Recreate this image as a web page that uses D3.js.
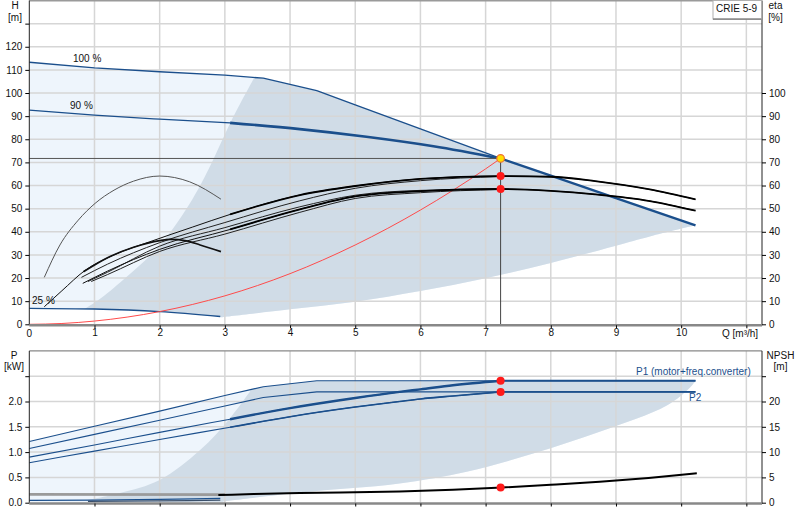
<!DOCTYPE html>
<html><head><meta charset="utf-8">
<script src="https://cdn.jsdelivr.net/npm/d3@7"></script>
<style>body{margin:0;background:#fff}svg{display:block;font-family:"Liberation Sans",Arial,sans-serif}</style>
</head><body><svg id="c" width="800" height="520"></svg>
<script>
// ---------- tick labels ----------
const Q_TICKS=[0,1,2,3,4,5,6,7,8,9,10];
const Q_GRID=[1,2,3,4,5,6,7,8,9,10,11];
const H_TICKS=[0,10,20,30,40,50,60,70,80,90,100,110,120,130];
const ETA_TICKS=[0,10,20,30,40,50,60,70,80,90,100];
const P_TICKS=[0,0.5,1,1.5,2,2.5];
const NPSH_TICKS=[0,5,10,15,20,25];

// ---------- head curves ----------
const H100_Q=[0,1,2,3,3.59,4.41,5,6,7.23];
const H100_H=[113.3,110.9,109.2,107.7,106.4,101,94.9,84.5,71.7];
const H90_Q=[0,1,2,3.08];
const H90_H=[92.6,90.4,88.7,87.1];
const HDUTY_Q=[3.08,4.15,5.17,6.2,7.23];
const HDUTY_H=[87.1,84.4,81.1,77,71.7];
const HEND_Q=[7.23,8,9,10.22];
const HEND_H=[71.7,64.3,54.6,42.8];
const H25_Q=[0,1,2,2.93];
const H25_H=[6.9,6.6,5.5,3.4];
const SYS_Q=[0,0.5,1,2,3,4,5,6,7,7.23];
const SYS_H=[0,0.35,1.4,5.5,12.3,21.9,34.3,49.4,67.2,71.7];
// operating-area boundaries
const LOW_Q=[10.22,9.52,9,8,7,6,5,4,2.94];
const LOW_H=[42.8,38,34,26.5,19.9,14.4,9.8,6.5,3.0];
const GREYL_Q=[0.85,1.06,1.45,2.0,2.5,2.75,3.1,3.45];
const GREYL_H=[6.7,10.5,19.5,34,54,67,88,106.6];

// ---------- efficiency curves ----------
const E25A_Q=[0.23,0.47,0.75,1.01,1.3,1.6,2.0,2.46,2.94];
const E25A=[20.3,34.3,45,52.3,58,61.9,64.1,61.6,54.1];
const E25B_Q=[0.83,1.2,1.6,2.0,2.16,2.41,2.62,2.94];
const E25B=[22.7,28.8,33.3,36.2,36.7,36.1,34.3,31.4];
const EF1_Q=[0.23,0.5,0.85,1.3,1.85,2.5,3.08,4.15,5,6,7.23,8,8.68,9.52,10.22];
const EF1=[7.6,14.5,23.2,30,35.7,42,47.5,55.9,59.8,62.9,64.1,63.8,61.9,58.3,54.0];
const EF2_Q=[0.8,1.2,2,3,4.15,5,6,7.23];
const EF2=[20.3,26,35.3,44,53.4,58.8,62.1,63.9];
const EF3_Q=[0.9,1.2,2,3,4.15,5,6,7.23];
const EF3=[18.5,22.5,33.8,41.8,50.8,55.8,57.9,58.5];
const EF4_Q=[0.82,1.2,2,3.08,4.15,5,6,7.23,8,8.68,9.52,10.22];
const EF4=[17.7,23,32.4,41,49.7,55.3,57.6,58.5,57.7,56.2,53.3,49.1];
const EF5_Q=[0.95,1.2,2,3,4.15,5,6,7.23];
const EF5=[18.5,21.5,31.5,39,48.4,54.4,56.9,58.3];

// ---------- duty point ----------
const DUTY_Q=7.23, DUTY_H=71.7;
const DUTY_ETA=[64.1,58.5];
const DUTY_P=[2.41,2.19];
const DUTY_NPSH=3.0;

// ---------- power curves ----------
const P1MAX_Q=[0,1,2,3,3.41,3.59,4.41,10.22];
const P1MAX=[1.21,1.51,1.81,2.12,2.24,2.29,2.41,2.41];
const P2MAX_Q=[0,1,2,3,3.59,4.41,10.22];
const P2MAX=[1.07,1.35,1.63,1.91,2.08,2.19,2.19];
const PD_Q=[0,1,2,3.08,4,5,5.68,6,6.5,7.23];
const P1DUTY=[0.9,1.14,1.39,1.65,1.87,2.07,2.19,2.24,2.32,2.41];
const P2DUTY=[0.79,1.02,1.25,1.49,1.70,1.89,2.0,2.05,2.11,2.19];
const PEND_Q=[7.23,10.22];
const P1END=[2.41,2.41];
const P2END=[2.19,2.19];
const P1_25_Q=[0,1,2,2.93];
const P1_25=[0.045,0.05,0.065,0.085];
const P2_25_Q=[0.9,2,2.93];
const P2_25=[0.025,0.035,0.05];
const PLOW_Q=[10.22,10.14,9.78,8.75,7.73,6.71,5.68,4.15,2.97];
const PLOW=[2.41,2.28,1.92,1.40,0.97,0.61,0.38,0.2,0.02];
const PGREYL_Q=[0.85,1.39,2.0,2.62,3.08,3.41];
const PGREYL=[0.04,0.19,0.45,1.04,1.67,2.24];
// NPSH
const N25_Q=[0,3.0];
const N25=[1.65,1.6];
const NPSH_Q=[2.9,3.44,4.15,5,5.68,6.5,7.25,8,8.75,9.5,10.24];
const NPSH=[1.5,1.7,1.9,2.05,2.2,2.55,3.0,3.55,4.15,4.9,5.8];

// ---------- drawing ----------
const BLUE="#1b4f8c", LIGHT="#eef5fc", GREY="#d0dce7", GRID="#d6d6d6";
const svg=d3.select("#c");
const x=d3.scaleLinear().domain([0,11.24]).range([29.3,762]);
const yH=d3.scaleLinear().domain([0,140]).range([324.3,0.5]);
const yP=d3.scaleLinear().domain([0,3]).range([502.7,350.9]);
const yN=d3.scaleLinear().domain([0,30]).range([502.7,350.9]);
const zip=(a,b)=>a.map((q,i)=>[q,b[i]]);

function gen(y,curve){return d3.line().x(d=>x(d[0])).y(d=>y(d[1])).curve(curve||d3.curveMonotoneX);}
function poly(parts){return parts.map((p,i)=>i?p.replace(/^M/,"L"):p).join("")+"Z";}
const cr=d3.curveCatmullRom.alpha(0.5);

function drawLine(g,y,data,color,w,curve){
  g.append("path").attr("d",gen(y,curve)(data)).attr("fill","none")
   .attr("stroke",color).attr("stroke-width",w).attr("stroke-linejoin","round");
}
const T=(g,t,xx,yy,anchor,fill)=>g.append("text").attr("x",xx).attr("y",yy).attr("font-size",10).attr("text-anchor",anchor||"middle").attr("fill",fill||"#111").text(t);

// ===== TOP CHART =====
const gTop=svg.append("g");
{
  const h100=zip(H100_Q,H100_H).concat(zip(HEND_Q,HEND_H).slice(1));
  const d=poly([gen(yH,d3.curveLinear)(h100),gen(yH,cr)(zip(LOW_Q,LOW_H)),
    gen(yH,d3.curveLinear)(zip(H25_Q,H25_H).reverse())]);
  gTop.append("path").attr("d",d).attr("fill",LIGHT);
  const upper=h100.filter(p=>p[0]>3.45);
  const h25rev=zip(H25_Q,H25_H).filter(p=>p[0]>0.85).reverse().concat([[0.85,6.7]]);
  const g2=poly([gen(yH,cr)(zip(GREYL_Q,GREYL_H)),gen(yH,d3.curveLinear)(upper),
    gen(yH,cr)(zip(LOW_Q,LOW_H)),gen(yH,d3.curveLinear)(h25rev)]);
  gTop.append("path").attr("d",g2).attr("fill",GREY);
}
gTop.selectAll(".vg").data(Q_GRID).join("line").attr("x1",d=>x(d)).attr("x2",d=>x(d))
  .attr("y1",0.5).attr("y2",324.3).attr("stroke",GRID).attr("stroke-width",1.5);
gTop.selectAll(".hg").data(H_TICKS.slice(1)).join("line").attr("x1",29.3).attr("x2",762)
  .attr("y1",d=>yH(d)).attr("y2",d=>yH(d)).attr("stroke",GRID).attr("stroke-width",1.5);
gTop.append("line").attr("x1",29.3).attr("x2",762).attr("y1",0.75).attr("y2",0.75).attr("stroke","#9a9a9a").attr("stroke-width",1.5);

drawLine(gTop,yH,zip(H25_Q,H25_H),BLUE,1.4);
drawLine(gTop,yH,zip(H100_Q,H100_H),BLUE,1.3,d3.curveLinear);
drawLine(gTop,yH,zip(H90_Q,H90_H),BLUE,1.2);
drawLine(gTop,yH,zip(HDUTY_Q,HDUTY_H),BLUE,2.6);
drawLine(gTop,yH,zip(HEND_Q,HEND_H),BLUE,2.4,d3.curveLinear);
drawLine(gTop,yH,zip(SYS_Q,SYS_H),"#ff4b4b",1);
gTop.append("line").attr("x1",29.3).attr("x2",x(DUTY_Q)).attr("y1",yH(DUTY_H)).attr("y2",yH(DUTY_H)).attr("stroke","#555").attr("stroke-width",1);
gTop.append("line").attr("x1",x(DUTY_Q)).attr("x2",x(DUTY_Q)).attr("y1",yH(DUTY_H)).attr("y2",324.3).attr("stroke","#444").attr("stroke-width",1);
drawLine(gTop,yH,zip(E25A_Q,E25A),"#555",1);
drawLine(gTop,yH,zip(EF1_Q,EF1),"#111",1);
drawLine(gTop,yH,zip(EF2_Q,EF2),"#222",1);
drawLine(gTop,yH,zip(EF3_Q,EF3),"#222",1);
drawLine(gTop,yH,zip(EF5_Q,EF5),"#222",1);
drawLine(gTop,yH,zip(EF4_Q,EF4),"#111",1);
drawLine(gTop,yH,zip(E25B_Q,E25B),"#111",1.7);
drawLine(gTop,yH,zip(EF1_Q,EF1).filter(p=>p[0]>=3.08),"#000",1.8);
drawLine(gTop,yH,zip(EF4_Q,EF4).filter(p=>p[0]>=3.08),"#000",1.8);

T(gTop,"100 %",73,62,"start");
T(gTop,"90 %",70,109,"start");
T(gTop,"25 %",32,304,"start");

const gL=gTop.append("g").attr("transform","translate(29.3,0)")
  .call(d3.axisLeft(yH).tickValues(H_TICKS).tickSize(4).tickPadding(3).tickFormat(d=>d===130?"":d));
const gR=gTop.append("g").attr("transform","translate(762,0)")
  .call(d3.axisRight(yH).tickValues(ETA_TICKS).tickSize(4).tickPadding(3));
const gB=gTop.append("g").attr("transform","translate(0,325.3)")
  .call(d3.axisBottom(x).tickValues(Q_GRID).tickSize(3).tickPadding(1).tickFormat(d=>d===11?"":d));
gB.append("text").attr("x",x(Q_TICKS[0])).attr("y",12).attr("text-anchor","middle").text(Q_TICKS[0]);
[gL,gR,gB].forEach(g=>{g.selectAll("text").attr("font-size",10).attr("font-family","Liberation Sans, Arial").attr("fill","#111");});
gL.select(".domain").attr("d","M0,0.5V325.3").attr("stroke","#222");
gR.select(".domain").attr("d","M0,0.5V325.3").attr("stroke","#222");
gB.select(".domain").attr("d","M29.3,0H762").attr("stroke","#888").attr("stroke-width",2.5);

gTop.append("circle").attr("cx",x(DUTY_Q)).attr("cy",yH(DUTY_H)).attr("r",3.8).attr("fill","#ffe000").attr("stroke","#f07030").attr("stroke-width",1.2);
gTop.selectAll(".ed").data(DUTY_ETA).join("circle").attr("cx",x(DUTY_Q)).attr("cy",d=>yH(d)).attr("r",4).attr("fill","#ff1a1a");

T(gTop,"H",15,9);T(gTop,"[m]",15,20.5);
T(gTop,"eta",775.5,9);T(gTop,"[%]",775.5,20.5);
T(gTop,"Q [m³/h]",722,337,"start");
gTop.append("rect").attr("x",713).attr("y",0.5).attr("width",48.5).attr("height",18.5).attr("fill","#fff").attr("stroke","#b0b0b0");
gTop.append("path").attr("d","M713,19.2H761.5").attr("stroke","#777").attr("stroke-width",1.2);
T(gTop,"CRIE 5-9",716,11.5,"start");

// ===== BOTTOM CHART =====
const gBot=svg.append("g");
{
  const p1=zip(P1MAX_Q,P1MAX);
  const d=poly([gen(yP,d3.curveLinear)(p1),gen(yP,cr)(zip(PLOW_Q,PLOW)),
     gen(yP,d3.curveLinear)([[2.97,0],[0,0]])]);
  gBot.append("path").attr("d",d).attr("fill",LIGHT);
  const upper=p1.filter(p=>p[0]>3.41);
  const d2=poly([gen(yP,cr)(zip(PGREYL_Q,PGREYL)),gen(yP,d3.curveLinear)(upper),
     gen(yP,cr)(zip(PLOW_Q,PLOW)),gen(yP,d3.curveLinear)([[2.97,0.02],[0.85,0.04]])]);
  gBot.append("path").attr("d",d2).attr("fill",GREY);
}
gBot.selectAll(".vg").data(Q_GRID).join("line").attr("x1",d=>x(d)).attr("x2",d=>x(d))
  .attr("y1",350.9).attr("y2",502.7).attr("stroke",GRID).attr("stroke-width",1.5);
gBot.selectAll(".hg").data(P_TICKS.slice(1)).join("line").attr("x1",29.3).attr("x2",762)
  .attr("y1",d=>yP(d)).attr("y2",d=>yP(d)).attr("stroke",GRID).attr("stroke-width",1.5);
gBot.append("line").attr("x1",29.3).attr("x2",762).attr("y1",350.9).attr("y2",350.9).attr("stroke","#888").attr("stroke-width",1.2);

drawLine(gBot,yN,zip(N25_Q,N25),"#9a9a9a",2.6,d3.curveLinear);
drawLine(gBot,yP,zip(P1_25_Q,P1_25),BLUE,1.2);
drawLine(gBot,yP,zip(P2_25_Q,P2_25),"#3a4f6a",1.2);
drawLine(gBot,yP,zip(P1MAX_Q,P1MAX),BLUE,1.1,d3.curveLinear);
drawLine(gBot,yP,zip(P2MAX_Q,P2MAX),BLUE,1.1,d3.curveLinear);
drawLine(gBot,yP,zip(PD_Q,P1DUTY),BLUE,1.1);
drawLine(gBot,yP,zip(PD_Q,P2DUTY),BLUE,1.1);
drawLine(gBot,yP,zip(PD_Q,P1DUTY).filter(p=>p[0]>=3.08),BLUE,2.4);
drawLine(gBot,yP,zip(PD_Q,P2DUTY).filter(p=>p[0]>=3.08),BLUE,1.6);
drawLine(gBot,yP,zip(PEND_Q,P1END),BLUE,2.2,d3.curveLinear);
drawLine(gBot,yP,zip(PEND_Q,P2END),BLUE,1.6,d3.curveLinear);
drawLine(gBot,yN,zip(NPSH_Q,NPSH),"#000",2);

const bL=gBot.append("g").attr("transform","translate(29.3,0)")
  .call(d3.axisLeft(yP).tickValues(P_TICKS).tickSize(4).tickPadding(3).tickFormat(d=>d===2.5?"":d3.format(".1f")(d)));
const bR=gBot.append("g").attr("transform","translate(762,0)")
  .call(d3.axisRight(yN).tickValues(NPSH_TICKS).tickSize(4).tickPadding(3).tickFormat(d=>d===25?"":d));
const bB=gBot.append("g").attr("transform","translate(0,503.5)")
  .call(d3.axisBottom(x).tickValues(Q_GRID).tickSize(3).tickFormat(""));
[bL,bR].forEach(g=>{g.selectAll("text").attr("font-size",10).attr("font-family","Liberation Sans, Arial").attr("fill","#111");});
bL.select(".domain").attr("d","M0,350.9V503.5").attr("stroke","#222");
bR.select(".domain").attr("d","M0,350.9V503.5").attr("stroke","#222");
bB.select(".domain").attr("d","M29.3,0H762").attr("stroke","#888").attr("stroke-width",2.5);

gBot.selectAll(".pd").data(DUTY_P).join("circle").attr("cx",x(DUTY_Q)).attr("cy",d=>yP(d)).attr("r",4).attr("fill","#ff1a1a");
gBot.append("circle").attr("cx",x(DUTY_Q)).attr("cy",yN(DUTY_NPSH)).attr("r",4).attr("fill","#ff1a1a");

T(gBot,"P",14,359);T(gBot,"[kW]",14,370);
T(gBot,"NPSH",780.5,359);T(gBot,"[m]",780.5,370);
T(gBot,"P1 (motor+freq.converter)",636,375,"start",BLUE);
T(gBot,"P2",689,401,"start",BLUE);
</script></body></html>
